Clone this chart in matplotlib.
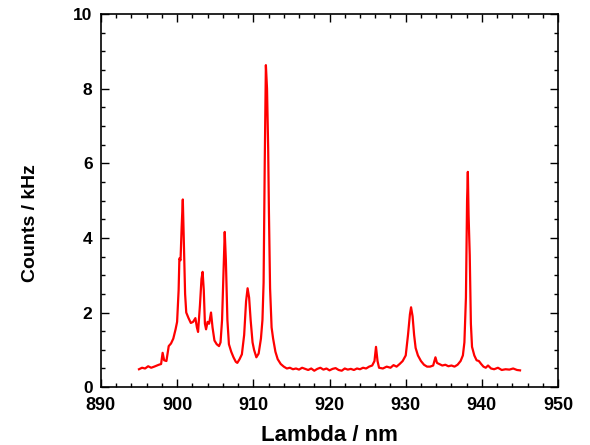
import matplotlib.pyplot as plt
from matplotlib.ticker import MultipleLocator

# Spectrum (wavelength in nm, counts in kHz)
wavelength = [
    895.0, 895.4, 895.8, 896.2, 896.6, 897.0, 897.6, 897.9, 898.1, 898.3,
    898.6, 898.9, 899.2, 899.5, 899.8, 900.0, 900.2, 900.3, 900.45, 900.6,
    900.75, 900.9, 901.05, 901.2, 901.5, 901.8, 902.1, 902.4, 902.6, 902.75,
    903.0, 903.2, 903.35, 903.5, 903.65, 903.8, 904.0, 904.2, 904.45, 904.65,
    904.9, 905.2, 905.5, 905.7, 905.9, 906.1, 906.25, 906.4, 906.6, 906.8,
    907.1, 907.4, 907.7, 907.9, 908.2, 908.5, 908.8, 909.05, 909.25, 909.45,
    909.65, 909.9, 910.1, 910.4, 910.7, 911.0, 911.2, 911.35, 911.5, 911.65,
    911.8, 911.95, 912.05, 912.2, 912.4, 912.6, 912.9, 913.2, 913.6, 914.0,
    914.4, 914.8, 915.2, 915.6, 916.0, 916.4, 916.8, 917.2, 917.6, 918.0,
    918.4, 918.8, 919.2, 919.6, 920.0, 920.4, 920.8, 921.2, 921.6, 922.0,
    922.4, 922.8, 923.2, 923.6, 924.0, 924.4, 924.8, 925.2, 925.6, 925.9,
    926.1, 926.3, 926.5, 927.0, 927.5, 928.0, 928.4, 928.8, 929.2, 929.6,
    930.0, 930.3, 930.55, 930.7, 930.9, 931.1, 931.3, 931.6, 932.0, 932.4,
    932.8, 933.2, 933.6, 933.9, 934.1, 934.4, 934.8, 935.2, 935.6, 936.0,
    936.4, 936.8, 937.2, 937.5, 937.7, 937.9, 938.05, 938.15, 938.25, 938.4,
    938.55, 938.7, 939.0, 939.3, 939.6, 939.9, 940.2, 940.5, 940.8, 941.2,
    941.6, 942.1, 942.6, 943.1, 943.6, 944.1, 944.6, 945.0,
]
counts = [
    0.48, 0.52, 0.50, 0.56, 0.52, 0.55, 0.60, 0.62, 0.92, 0.72,
    0.70, 1.10, 1.17, 1.30, 1.55, 1.75, 2.60, 3.45, 3.40, 4.30,
    5.03, 3.80, 2.50, 2.00, 1.85, 1.72, 1.75, 1.85, 1.60, 1.48,
    2.20, 2.90, 3.09, 2.60, 1.70, 1.55, 1.75, 1.70, 2.00, 1.60,
    1.25, 1.15, 1.10, 1.20, 1.80, 3.20, 4.16, 3.40, 1.80, 1.15,
    0.95, 0.80, 0.68, 0.65, 0.75, 0.88, 1.40, 2.30, 2.65, 2.40,
    1.80, 1.20, 1.00, 0.80, 0.90, 1.30, 1.80, 2.80, 6.00, 8.63,
    8.00, 6.40, 4.70, 2.65, 1.60, 1.30, 0.95, 0.75, 0.62, 0.55,
    0.50, 0.52, 0.48, 0.50, 0.47, 0.52, 0.49, 0.46, 0.50, 0.44,
    0.49, 0.52, 0.47, 0.50, 0.45, 0.49, 0.51, 0.46, 0.44, 0.50,
    0.47, 0.49, 0.46, 0.50, 0.48, 0.52, 0.50, 0.55, 0.58, 0.70,
    1.08, 0.70, 0.52, 0.50, 0.55, 0.52, 0.59, 0.55, 0.62, 0.70,
    0.85, 1.40, 1.95, 2.14, 1.90, 1.40, 1.05, 0.85, 0.70, 0.60,
    0.55, 0.55, 0.58, 0.80, 0.65, 0.62, 0.58, 0.60, 0.56, 0.58,
    0.55, 0.60, 0.70, 0.85, 1.20, 2.40, 5.00, 5.77, 4.60, 3.54,
    1.70, 1.08, 0.85, 0.72, 0.70, 0.62, 0.55, 0.52, 0.58, 0.50,
    0.48, 0.52, 0.46, 0.48, 0.47, 0.50, 0.46, 0.45,
]

plt.rcParams['font.family'] = ['Liberation Sans', 'DejaVu Sans']

fig = plt.figure(figsize=(5.9, 4.45), dpi=100)
ax = fig.add_axes([0.171, 0.130, 0.775, 0.8385])

ax.plot(wavelength, counts, color='red', linewidth=1.6)

ax.set_xlim(890, 950)
ax.set_ylim(0, 10)
ax.xaxis.set_major_locator(MultipleLocator(10))
ax.xaxis.set_minor_locator(MultipleLocator(2))
ax.yaxis.set_major_locator(MultipleLocator(2))
ax.yaxis.set_minor_locator(MultipleLocator(0.5))

ax.tick_params(which='both', direction='in', top=True, right=True, width=1.0)
ax.tick_params(which='major', length=6)
ax.tick_params(which='minor', length=3)
ax.tick_params(axis='x', pad=7, labelsize=13)
ax.tick_params(axis='y', pad=6, labelsize=12.5)
for lab in ax.get_xticklabels() + ax.get_yticklabels():
    lab.set_fontweight('bold')

for sp in ax.spines.values():
    sp.set_linewidth(1.2)

ax.set_xlabel('Lambda / nm', fontsize=16, fontweight='bold', va='center')
ax.xaxis.set_label_coords(0.5, -0.129)
ax.set_ylabel('Counts / kHz', fontsize=14, fontweight='bold', va='center')
ax.yaxis.set_label_coords(-0.155, 0.44)

fig.savefig('out.png', dpi=100)
